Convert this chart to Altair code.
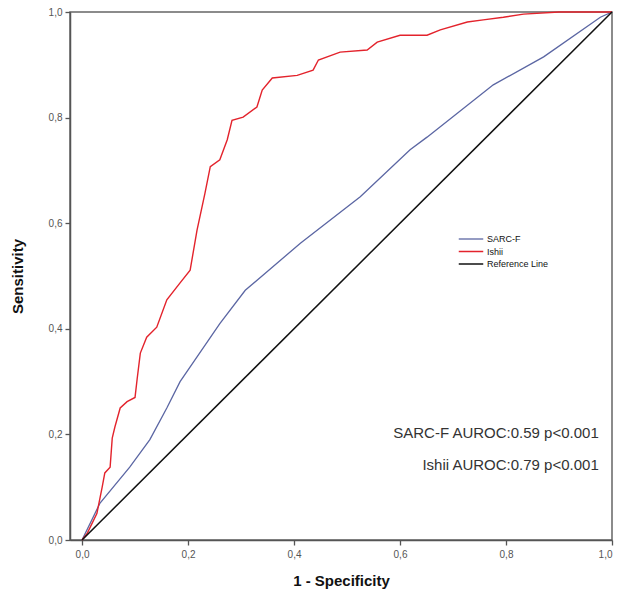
import altair as alt
import pandas as pd

# SARC-F ROC curve (1 - specificity, sensitivity)
sarc_x = [0.0, 0.034, 0.09, 0.128, 0.16, 0.185, 0.217, 0.26, 0.308, 0.412, 0.525, 0.619, 0.651, 0.776, 0.871, 0.978, 1.0]
sarc_y = [0.0, 0.07, 0.138, 0.19, 0.25, 0.30, 0.347, 0.41, 0.473, 0.562, 0.65, 0.739, 0.763, 0.862, 0.915, 0.99, 1.0]

# Ishii ROC curve
ishii_x = [0.0, 0.01, 0.028, 0.038, 0.043, 0.053, 0.057, 0.062, 0.072, 0.085, 0.1, 0.104, 0.11, 0.122, 0.141,
           0.16, 0.185, 0.204, 0.217, 0.232, 0.242, 0.26, 0.274, 0.283, 0.304, 0.33, 0.34, 0.359, 0.406, 0.436,
           0.446, 0.487, 0.538, 0.557, 0.6, 0.651, 0.676, 0.727, 0.757, 0.795, 0.833, 0.9, 1.0]
ishii_y = [0.0, 0.013, 0.05, 0.1, 0.127, 0.138, 0.193, 0.214, 0.25, 0.262, 0.27, 0.305, 0.354, 0.384, 0.403,
           0.455, 0.487, 0.511, 0.587, 0.657, 0.707, 0.72, 0.758, 0.795, 0.801, 0.82, 0.852, 0.875, 0.88, 0.89,
           0.909, 0.924, 0.928, 0.943, 0.956, 0.956, 0.966, 0.981, 0.985, 0.99, 0.996, 1.0, 1.0]

# Reference line
ref_x = [0.0, 1.0]
ref_y = [0.0, 1.0]

series_names = ["SARC-F", "Ishii", "Reference Line"]
series_colors = ["#5b66a3", "#e3232c", "#111111"]
series_widths = [1.3, 1.5, 1.8]

annot_text = ["SARC-F AUROC:0.59 p<0.001", "Ishii AUROC:0.79 p<0.001"]
annot_x = [0.975, 0.975]
annot_y = [0.203, 0.142]

tick_vals = [0.0, 0.2, 0.4, 0.6, 0.8, 1.0]

rows = []
for name, xs, ys in [("SARC-F", sarc_x, sarc_y), ("Ishii", ishii_x, ishii_y), ("Reference Line", ref_x, ref_y)]:
    for i, (a, b) in enumerate(zip(xs, ys)):
        rows.append({"series": name, "fpr": a, "tpr": b, "i": i})
df = pd.DataFrame(rows)
adf = pd.DataFrame({"t": annot_text, "x": annot_x, "y": annot_y})

xscale = alt.Scale(domain=[-0.0227, 1.0], nice=False, zero=False)
yscale = alt.Scale(domain=[0.0, 1.0], nice=False)

lines = alt.Chart(df).mark_line(interpolate="linear").encode(
    x=alt.X("fpr:Q", scale=xscale, title="1 - Specificity",
            axis=alt.Axis(values=tick_vals, labelExpr="replace(format(datum.value, '.1f'), '.', ',')",
                          grid=False, tickSize=5, labelFontSize=10, labelColor="#555",
                          labelFont="Liberation Sans", labelPadding=4,
                          titleFont="Liberation Sans", titleFontSize=15, titleFontWeight="bold",
                          titleColor="#111", titlePadding=14, domainColor="#555", domainWidth=1.5,
                          tickColor="#555", tickWidth=1.3)),
    y=alt.Y("tpr:Q", scale=yscale, title="Sensitivity",
            axis=alt.Axis(values=tick_vals, labelExpr="replace(format(datum.value, '.1f'), '.', ',')",
                          grid=False, tickSize=5, labelFontSize=10, labelColor="#555",
                          labelFont="Liberation Sans", labelPadding=3,
                          titleFont="Liberation Sans", titleFontSize=15, titleFontWeight="bold",
                          titleColor="#111", titlePadding=23, domainColor="#555", domainWidth=1.5,
                          tickColor="#555", tickWidth=1.3)),
    color=alt.Color("series:N", scale=alt.Scale(domain=series_names, range=series_colors),
                    legend=alt.Legend(title=None, orient="none", legendX=388, legendY=222,
                                      symbolType="stroke", symbolSize=600, symbolStrokeWidth=1.5,
                                      clipHeight=10, rowPadding=2.5, labelFontSize=9,
                                      labelFont="Liberation Sans", labelColor="#111",
                                      labelOffset=3)),
    strokeWidth=alt.StrokeWidth("series:N", scale=alt.Scale(domain=series_names, range=series_widths),
                                legend=None),
    order="i:Q",
)

texts = alt.Chart(adf).mark_text(align="right", baseline="middle", fontSize=15,
                                 font="Liberation Sans", color="#333").encode(
    x=alt.X("x:Q", scale=xscale), y=alt.Y("y:Q", scale=yscale), text="t:N")

chart = alt.layer(lines, texts).properties(
    width=542, height=528,
    autosize=alt.AutoSizeParams(type="none"),
    padding={"left": 62, "top": 4, "right": 5, "bottom": 50},
).configure_view(stroke="#666", strokeWidth=1.5)

chart.save("out.html", embed_options={"renderer": "svg", "actions": False})
